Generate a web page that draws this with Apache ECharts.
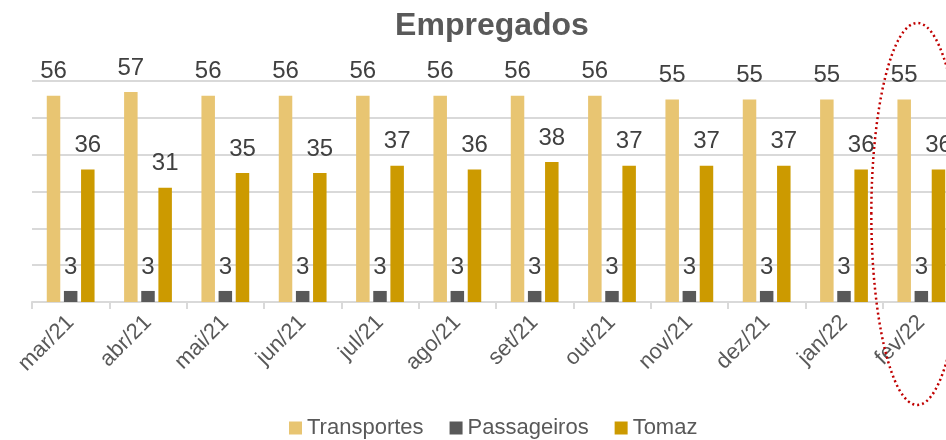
<!DOCTYPE html>
<html>
<head>
<meta charset="utf-8">
<script src="https://cdn.jsdelivr.net/npm/echarts@6/dist/echarts.min.js"></script>
<style>
  html, body { margin: 0; padding: 0; background: #fff; }
  #chart { width: 946px; height: 440px; }
</style>
</head>
<body>
<div id="chart"></div>
<script>
  // dados
  const meses = ['mar/21', 'abr/21', 'mai/21', 'jun/21', 'jul/21', 'ago/21',
    'set/21', 'out/21', 'nov/21', 'dez/21', 'jan/22', 'fev/22'];
  const transportes = [56, 57, 56, 56, 56, 56, 56, 56, 55, 55, 55, 55];
  const passageiros = [3, 3, 3, 3, 3, 3, 3, 3, 3, 3, 3, 3];
  const tomaz = [36, 31, 35, 35, 37, 36, 38, 37, 37, 37, 36, 36];

  const fonte = 'Liberation Sans, Arial, sans-serif';
  const cinza = '#595959';

  const myChart = echarts.init(document.getElementById('chart'));

  const rotulo = {
    show: true,
    position: 'top',
    distance: 12,
    color: '#404040',
    fontSize: 24,
    fontFamily: fonte,
  };

  const option = {
    animation: false,
    title: {
      text: 'Empregados',
      left: 487,
      textAlign: 'center',
      top: 5,
      textStyle: {
        color: cinza,
        fontSize: 32,
        fontWeight: 'bold',
        fontFamily: fonte,
      },
    },
    legend: {
      top: 412,
      left: 284,
      itemWidth: 13,
      itemHeight: 13,
      itemGap: 26,
      icon: 'rect',
      textStyle: { color: cinza, fontSize: 22, fontFamily: fonte },
      data: ['Transportes', 'Passageiros', 'Tomaz'],
    },
    // o gráfico original continua além da borda direita
    grid: { left: 32, right: -14, top: 81, bottom: 138, outerBoundsMode: 'none' },
    xAxis: {
      type: 'category',
      data: meses,
      axisLine: { lineStyle: { color: '#D9D9D9', width: 2 } },
      axisTick: { show: true, length: 7, lineStyle: { color: '#D9D9D9', width: 2 } },
      axisLabel: {
        rotate: 45,
        margin: 17,
        color: cinza,
        fontSize: 22,
        fontFamily: fonte,
        interval: 0,
      },
    },
    yAxis: {
      type: 'value',
      min: 0,
      max: 60,
      interval: 10,
      axisLabel: { show: false },
      axisLine: { show: false },
      axisTick: { show: false },
      splitLine: { lineStyle: { color: '#D9D9D9', width: 2 } },
    },
    series: [
      {
        name: 'Transportes',
        type: 'bar',
        data: transportes,
        barWidth: 13.5,
        barGap: '27%',
        itemStyle: { color: '#E8C572' },
        label: rotulo,
      },
      {
        name: 'Passageiros',
        type: 'bar',
        data: passageiros,
        barWidth: 13.5,
        barGap: '27%',
        itemStyle: { color: '#595959' },
        label: rotulo,
      },
      {
        name: 'Tomaz',
        type: 'bar',
        data: tomaz,
        barWidth: 13.5,
        barGap: '27%',
        itemStyle: { color: '#CC9A00' },
        label: rotulo,
      },
    ],
  };

  myChart.setOption(option);

  // elipse pontilhada em volta do último mês
  const cx = myChart.convertToPixel({ xAxisIndex: 0 }, 'fev/22') - 4;
  myChart.setOption({
    graphic: [
      {
        type: 'ellipse',
        shape: { cx: cx, cy: 214, rx: 46, ry: 191 },
        style: { fill: 'none', stroke: '#C00000', lineWidth: 2.5, lineDash: [2, 3] },
        z: 100,
      },
    ],
  });
</script>
</body>
</html>
